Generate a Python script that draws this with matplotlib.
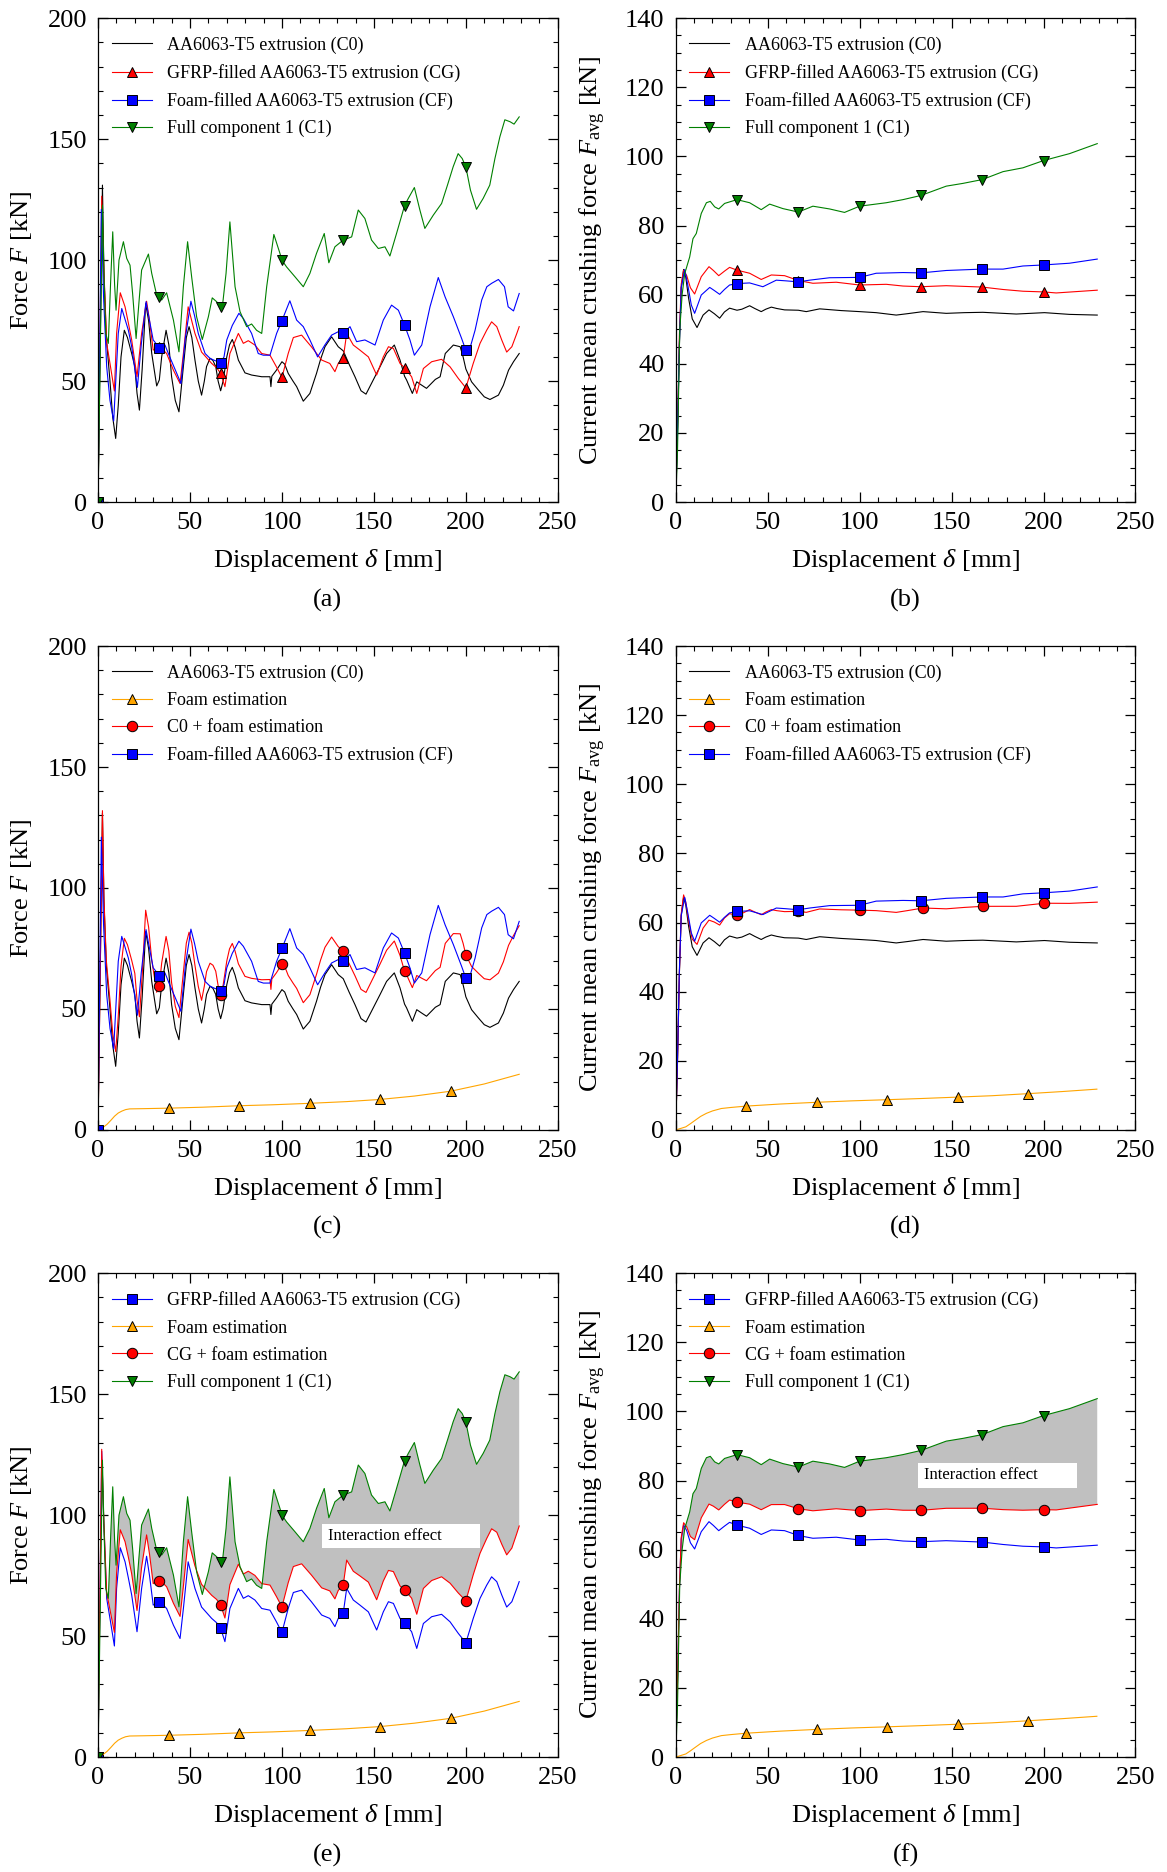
import numpy as np
import matplotlib
matplotlib.use('Agg')
import matplotlib.pyplot as plt
from matplotlib.patches import Rectangle
from matplotlib.ticker import MultipleLocator

plt.rcParams['font.family'] = ['Liberation Serif', 'DejaVu Serif']
plt.rcParams['mathtext.fontset'] = 'custom'
plt.rcParams['mathtext.rm'] = 'Liberation Serif'
plt.rcParams['mathtext.it'] = 'Liberation Serif:italic'

# ---- raw force-displacement curves ----
c0_x = [0, 2.4, 3.2, 4.5, 6.5, 8, 9.6, 11, 12.5, 14.3, 16, 18.3, 20, 21.2, 22.5, 24, 25.9, 27.5, 29.2, 31.9,
        33.33, 34.6, 37, 38.5, 40, 42, 44, 46.4, 48, 49.5, 51, 52.7, 54.5, 56.3, 57.8, 59, 60.9, 62.5, 64, 65.3,
        66.67, 68, 70, 71.5, 73, 74.5, 76.3, 79.9, 83.5, 89, 93.5, 94, 94.5, 97, 100, 101.5, 103.4, 106, 108,
        111.6, 115.2, 118.8, 121, 123.4, 127, 130.6, 133.33, 136.5, 139.7, 143, 145.7, 149.6, 153.3, 156.9,
        161.1, 164.2, 166.67, 167.8, 170.9, 173.3, 176, 178.6, 183.4, 186, 188.8, 193.2, 196.9, 198.5, 200,
        203.1, 206.8, 210, 213.1, 217.7, 220.4, 223.2, 225.9, 229]
c0_f = [0, 131, 95, 68, 50, 35, 26.3, 40, 60, 71, 68, 61.4, 56, 45, 38, 55, 82, 75, 61.4, 48,
        50.5, 60, 71, 65, 51.8, 42, 37.3, 56, 68, 72.5, 68, 58.7, 50, 44.2, 50, 56, 59.4, 58.5, 56, 50,
        46, 50, 60, 65, 67.2, 64, 58.7, 53.4, 52.5, 51.8, 51.8, 47.7, 52, 54.5, 58, 57, 53.2, 50, 47.7,
        41.7, 44.9, 53.2, 59, 64.2, 68.3, 64.2, 62.5, 57, 51.8, 46, 44.6, 50.4, 55.9, 61.4,
        64.9, 58.7, 52, 50.4, 44.9, 49.7, 48.3, 47, 50.7, 51.8, 61.4, 64.9, 64.2, 60, 55,
        49.7, 46.3, 43.5, 42.4, 44.2, 48.3, 54.5, 58, 61.4]

cg_x = [0, 2, 3, 4.7, 6.5, 8.9, 10.1, 12.1, 14.7, 16.5, 18.3, 21.2, 23.7, 26.4, 28, 30, 31.5, 33.33, 35.5,
        37.3, 41, 44.6, 46.5, 49, 52.7, 56.3, 61.8, 64.5, 66.67, 69, 71.7, 76.3, 79, 81.7, 85.3, 89, 93.5, 97,
        100, 103.4, 106.2, 110.7, 116, 121.6, 126, 128.8, 130.6, 133.33, 135.2, 138.8, 142.4, 147, 151.5,
        155.1, 157.9, 160.6, 164.2, 166.67, 170.5, 173.3, 176.9, 181.4, 186.8, 191.4, 195.9, 200, 204, 207.7,
        211.3, 214, 216.8, 219.5, 222.2, 225, 227.7, 229]
cg_f = [0, 126.4, 100, 65.6, 57.3, 45.9, 69.7, 86.5, 80.7, 74, 67, 51.8, 69.7, 83, 75, 62.8, 63.5, 64, 62.8,
        61.4, 54.5, 49, 62, 80.7, 69.7, 62, 57.3, 55.5, 53.2, 47.7, 61.4, 69.7, 65.6, 66.7, 64.9, 61.4, 60.7, 55.9,
        51.5, 61.4, 68, 69, 64.2, 58.7, 57.3, 53.9, 57.3, 59.5, 69.7, 64.9, 62.8, 60, 52.5,
        60, 64.2, 63.5, 57.3, 55.5, 51.8, 44.9, 55.2, 58, 59, 55.9, 51.1, 47.2, 57.3, 65.6,
        71, 74.5, 72.5, 67, 62, 64.2, 69.7, 72.5]

cf_x = [0, 1.8, 3, 4.7, 6.5, 8.5, 11, 12.9, 16.5, 18.3, 21.4, 23.5, 26.1, 28, 30, 33.33, 36.4, 38.6, 42.8, 45.1,
        47.5, 50.5, 52.5, 54.5, 58.2, 60.9, 63.5, 66.67, 68.5, 70, 73, 76.6, 79, 83.5, 87.1, 89.9, 93.5, 97.1,
        100, 104.3, 108, 111.6, 115.2, 119.4, 123.4, 127, 130.6, 133.33, 137, 140.6, 145.1, 150.6, 155.1,
        159.6, 163.3, 166.67, 169.6, 172, 176, 180.5, 185, 188.7, 193.2, 197.7, 200, 201.4, 205, 208.6, 211.4,
        214, 217.7, 221, 223, 225.9, 229]
cf_f = [0, 121, 85, 56, 42, 33.5, 69.7, 80, 71, 64.2, 47.4, 65, 82.8, 75, 67, 63.8, 64.9, 60.7, 53.2, 49,
        68, 83, 77, 69.7, 61.4, 59.4, 58.5, 57.6, 60, 67, 73, 78, 75.9, 69.7, 61.4, 60.7, 60.7, 69.7,
        75, 83.2, 75.2, 72.5, 67, 60, 65, 69, 70.4, 69.7, 72.5, 66.3, 67, 64.9, 75.2,
        81.4, 79.3, 73.1, 67, 60.7, 64.9, 80.7, 92.8, 84.8, 76.6, 67.6, 62.7, 61.4, 71, 83.5, 89,
        90.4, 92, 89, 80.7, 79, 86.2]

c1_x = [0, 2.4, 3.2, 4.2, 5.6, 6.8, 8, 9, 9.8, 11.4, 13.8, 15.6, 17.4, 18.8, 20.7, 22.2, 23.7, 27.4, 29.2,
        31.9, 33.33, 34.6, 37.3, 41, 44, 46.4, 48.7, 50.9, 53.6, 56.7, 60, 62.1, 64.5, 66.67, 67.5, 69.6, 71.7,
        74.5, 77.2, 80.8, 83.5, 86.2, 89, 91.7, 95.6, 98.9, 100, 102.5, 107.1, 111.6, 115.2, 118.8, 123,
        125.5, 128.8, 133.33, 137.9, 141.5, 145.1, 148.7, 152.4, 156, 158.7, 162.3, 166.67, 168.7, 172, 175,
        177.7, 182.3, 186.8, 190, 193.1, 195.8, 198, 200, 202.5, 205.8, 209.4, 213, 215.8, 218.5, 221.2,
        224, 226.2, 229]
c1_f = [0, 122.7, 95, 69.7, 65.6, 90, 111.7, 90, 79.3, 100, 107.6, 100.7, 97.9, 86.2, 67.6, 82, 95.9, 102.5, 94.5,
        85.5, 84.6, 83.5, 86.5, 75.2, 62.1, 89, 107.6, 93.1, 76.6, 67.2, 76.6, 84.4, 82.8, 80.7, 80, 94.5, 115.8,
        89, 78.7, 72.5, 73.6, 71, 69.7, 89, 110.6, 102.8, 100, 97.2, 93.1, 89, 94.5, 102.8, 111,
        98.9, 105.5, 108.3, 109.6, 120.7, 117.2, 108.3, 104.8, 105.5, 101.7, 111, 122.5, 125.5, 130, 120.7,
        113.1, 118.6, 123.4, 131, 138.6, 144, 142, 138.5, 128.9, 121, 125.5, 131, 142, 151, 158,
        157.2, 156.2, 159.2]

foam_x = [0, 3, 5, 7, 9, 11, 13, 15, 17.2, 25, 38.33, 57, 76.67, 95, 115, 135, 153.33, 172, 191.67, 210, 229]
foam_f = [0, 1.2, 2.4, 4, 5.7, 7, 7.8, 8.4, 8.7, 8.8, 9.0, 9.4, 10.0, 10.4, 11.0, 11.7, 12.6, 14.0, 16.0, 19, 23]

# ---- current mean crushing force (b), (d) ----
c0a_x = [0, 1, 2, 3, 4.3, 5.5, 7, 9, 11.6, 14.9, 18.1, 21, 23.9, 26.5, 29.3, 33.33, 36, 40.2, 43, 46.5, 49, 52,
         55, 59.2, 66.67, 71, 78.3, 90, 100, 109, 119.9, 126, 134.5, 147.1, 157, 167, 185.2, 200.5, 214.1, 229.2]
c0a_f = [0, 20, 45, 62, 67.3, 65, 59, 53, 50.5, 54.1, 55.6, 54.5, 53.2, 55, 56.1, 55.5, 55.8, 56.8, 56, 55.1, 55.8,
         56.4, 56, 55.6, 55.5, 55.1, 55.9, 55.4, 55.1, 54.8, 54.1, 54.5, 55.1, 54.6, 54.8, 54.9, 54.4, 54.8, 54.3, 54.1]

cga_x = [0, 1, 2, 3, 4.3, 6, 8, 10.3, 13.9, 18.1, 20.5, 23.4, 26.5, 29.3, 33.33, 40.2, 46.5, 52, 59.2, 66.67,
         74.6, 87.3, 100, 114.5, 123.6, 133.33, 147.1, 166.67, 178, 188.8, 200, 206.9, 229.2]
cga_f = [0, 22, 48, 63, 67.1, 65.5, 62, 60.2, 65.2, 68.1, 67, 65.5, 66.8, 67.9, 67.1, 66.2, 64.4, 65.7, 65.5, 64.1,
         63.3, 63.6, 62.8, 63, 62.5, 62.3, 62.6, 62.2, 61.5, 61, 60.8, 60.5, 61.3]

cfa_x = [0, 1, 2, 3, 4.9, 6.5, 8.5, 10.3, 13.9, 18.5, 21, 23.9, 26.5, 29.3, 33.33, 40.2, 47.4, 54.7, 60, 66.67,
         72.8, 83.7, 100, 109, 123.6, 133.33, 147.1, 166.67, 178, 188.8, 200, 214.1, 229.2]
cfa_f = [0, 21, 46, 62, 67.3, 63, 57, 54.6, 59.9, 62.1, 61.2, 60.1, 61.5, 62.8, 63.2, 63.4, 62.3, 64.2, 64, 63.7,
         64.2, 64.9, 65, 66.2, 66.4, 66.3, 67, 67.4, 67.4, 68.3, 68.6, 69.1, 70.3]

c1a_x = [0, 1, 2.2, 3.5, 4.9, 7.6, 9.4, 11.2, 13.9, 16.7, 18.8, 21.2, 23.4, 26.6, 33.33, 40.2, 46.5, 51.1, 58.3,
         66.67, 74.6, 83.7, 91.8, 100, 114.5, 123.6, 133.33, 147.1, 156.2, 166.67, 178, 188.8, 200, 214.1, 229.2]
c1a_f = [0, 15, 49.8, 60, 66.1, 70.9, 76.2, 77.7, 83.5, 86.6, 87, 85.4, 84.8, 86.4, 87.5, 86.6, 84.6, 86.2, 84.9,
         83.9, 85.6, 84.8, 83.8, 85.6, 86.6, 87.5, 88.7, 91.4, 92.2, 93.3, 95.6, 96.7, 98.8, 100.8, 103.7]

foama_x = [0, 2.5, 5.5, 8, 10.6, 13.5, 16.7, 20, 24.8, 30, 38.33, 57, 76.67, 95, 115, 134, 153.33, 172, 191.67,
           210, 229]
foama_f = [0, 0.4, 0.9, 1.8, 2.8, 3.9, 4.8, 5.5, 6.2, 6.5, 6.9, 7.5, 8.0, 8.4, 8.75, 9.1, 9.5, 9.9, 10.5, 11.1, 11.8]

# summed estimations (tube response + foam estimation)
c0_foam = np.array(c0_f) + np.interp(c0_x, foam_x, foam_f)
cg_foam = np.array(cg_f) + np.interp(cg_x, foam_x, foam_f)
c0a_foam = np.array(c0a_f) + np.interp(c0a_x, foama_x, foama_f)
cga_foam = np.array(cga_f) + np.interp(cga_x, foama_x, foama_f)

lab_c0 = 'AA6063-T5 extrusion (C0)'
lab_cg = 'GFRP-filled AA6063-T5 extrusion (CG)'
lab_cf = 'Foam-filled AA6063-T5 extrusion (CF)'
lab_c1 = 'Full component 1 (C1)'
lab_foam = 'Foam estimation'

mpos_raw = [0, 100 / 3, 200 / 3, 100, 400 / 3, 500 / 3, 200]
mpos_avg = mpos_raw[1:]
fpos = [230 / 6 * k for k in range(1, 6)]


def marks(x, pos):
    x = np.asarray(x, dtype=float)
    return [int(np.argmin(np.abs(x - p))) for p in pos]


GREEN = '#008000'
ORANGE = '#FFA500'


def curve(ax, x, y, color, marker, pos, label):
    kw = dict(color=color, lw=0.8, label=label)
    if marker:
        kw.update(marker=marker, markevery=marks(x, pos), ms=7.5, mfc=color, mec='black', mew=0.7)
    ax.plot(x, y, **kw)


fig = plt.figure(figsize=(11.67, 18.72), dpi=100)
lefts = [0.084, 0.579]
bottoms = [0.7318, 0.3964, 0.0614]
W, H = 0.394, 0.2585
axes = []
for r in range(3):
    for c in range(2):
        axes.append(fig.add_axes([lefts[c], bottoms[r], W, H]))
ax_a, ax_b, ax_c, ax_d, ax_e, ax_f = axes

# (a)
curve(ax_a, c0_x, c0_f, 'black', None, mpos_raw, lab_c0)
curve(ax_a, cg_x, cg_f, 'red', '^', mpos_raw, lab_cg)
curve(ax_a, cf_x, cf_f, 'blue', 's', mpos_raw, lab_cf)
curve(ax_a, c1_x, c1_f, GREEN, 'v', mpos_raw, lab_c1)

# (b)
curve(ax_b, c0a_x, c0a_f, 'black', None, mpos_avg, lab_c0)
curve(ax_b, cga_x, cga_f, 'red', '^', mpos_avg, lab_cg)
curve(ax_b, cfa_x, cfa_f, 'blue', 's', mpos_avg, lab_cf)
curve(ax_b, c1a_x, c1a_f, GREEN, 'v', mpos_avg, lab_c1)

# (c)
curve(ax_c, c0_x, c0_f, 'black', None, mpos_raw, lab_c0)
curve(ax_c, foam_x, foam_f, ORANGE, '^', fpos, lab_foam)
curve(ax_c, c0_x, c0_foam, 'red', 'o', mpos_raw[1:], 'C0 + foam estimation')
curve(ax_c, cf_x, cf_f, 'blue', 's', mpos_raw, lab_cf)

# (d)
curve(ax_d, c0a_x, c0a_f, 'black', None, mpos_avg, lab_c0)
curve(ax_d, foama_x, foama_f, ORANGE, '^', fpos, lab_foam)
curve(ax_d, c0a_x, c0a_foam, 'red', 'o', mpos_avg, 'C0 + foam estimation')
curve(ax_d, cfa_x, cfa_f, 'blue', 's', mpos_avg, lab_cf)

# (e)
ax_e.fill(np.r_[c1_x, cg_x[::-1]], np.r_[c1_f, cg_foam[::-1]], color='#c0c0c0', lw=0, zorder=1)
curve(ax_e, cg_x, cg_f, 'blue', 's', mpos_raw, lab_cg)
curve(ax_e, foam_x, foam_f, ORANGE, '^', fpos, lab_foam)
curve(ax_e, cg_x, cg_foam, 'red', 'o', mpos_raw[1:], 'CG + foam estimation')
curve(ax_e, c1_x, c1_f, GREEN, 'v', mpos_raw, lab_c1)
ax_e.add_patch(Rectangle((122, 86.2), 85.8, 10.3, facecolor='white', edgecolor='none', zorder=1.5))
ax_e.text(125, 91.4, 'Interaction effect', fontsize=12, va='center', zorder=1.6)

# (f)
ax_f.fill(np.r_[c1a_x, cga_x[::-1]], np.r_[c1a_f, cga_foam[::-1]], color='#c0c0c0', lw=0, zorder=1)
curve(ax_f, cga_x, cga_f, 'blue', 's', mpos_avg, lab_cg)
curve(ax_f, foama_x, foama_f, ORANGE, '^', fpos, lab_foam)
curve(ax_f, cga_x, cga_foam, 'red', 'o', mpos_avg, 'CG + foam estimation')
curve(ax_f, c1a_x, c1a_f, GREEN, 'v', mpos_avg, lab_c1)
ax_f.add_patch(Rectangle((132, 77.7), 86, 7.3, facecolor='white', edgecolor='none', zorder=1.5))
ax_f.text(135, 81.5, 'Interaction effect', fontsize=12, va='center', zorder=1.6)

for i, ax in enumerate(axes):
    raw = (i % 2 == 0)
    ax.set_xlim(0, 250)
    ax.xaxis.set_major_locator(MultipleLocator(50))
    ax.xaxis.set_minor_locator(MultipleLocator(10))
    if raw:
        ax.set_ylim(0, 200)
        ax.yaxis.set_major_locator(MultipleLocator(50))
        ax.yaxis.set_minor_locator(MultipleLocator(10))
        ax.set_ylabel('Force $F$ [kN]', fontsize=19, va='center')
        ax.yaxis.set_label_coords(-0.166, 0.5)
    else:
        ax.set_ylim(0, 140)
        ax.yaxis.set_major_locator(MultipleLocator(20))
        ax.yaxis.set_minor_locator(MultipleLocator(5))
        ax.set_ylabel('Current mean crushing force $F_{\\mathrm{avg}}$ [kN]', fontsize=19, va='center')
        ax.yaxis.set_label_coords(-0.179, 0.5)
    ax.set_xlabel('Displacement $\\delta$ [mm]', fontsize=19, va='center')
    ax.xaxis.set_label_coords(0.5, -0.12)
    ax.tick_params(which='both', direction='in', top=True, right=True, labelsize=19)
    ax.tick_params(axis='x', pad=7)
    ax.tick_params(axis='y', pad=8)
    ax.tick_params(which='major', length=7, width=0.9)
    ax.tick_params(which='minor', length=3.5, width=0.8)
    for s in ax.spines.values():
        s.set_linewidth(0.9)
    ax.legend(loc='upper left', bbox_to_anchor=(0.03, 0.962), frameon=False, fontsize=13,
              borderaxespad=0, borderpad=0, handlelength=2.2, handletextpad=0.85,
              labelspacing=0.56, numpoints=1)
    ax.text(0.5, -0.2025, '(' + 'abcdef'[i] + ')', transform=ax.transAxes,
            ha='center', va='center', fontsize=19)

fig.savefig('out.png', dpi=100)
